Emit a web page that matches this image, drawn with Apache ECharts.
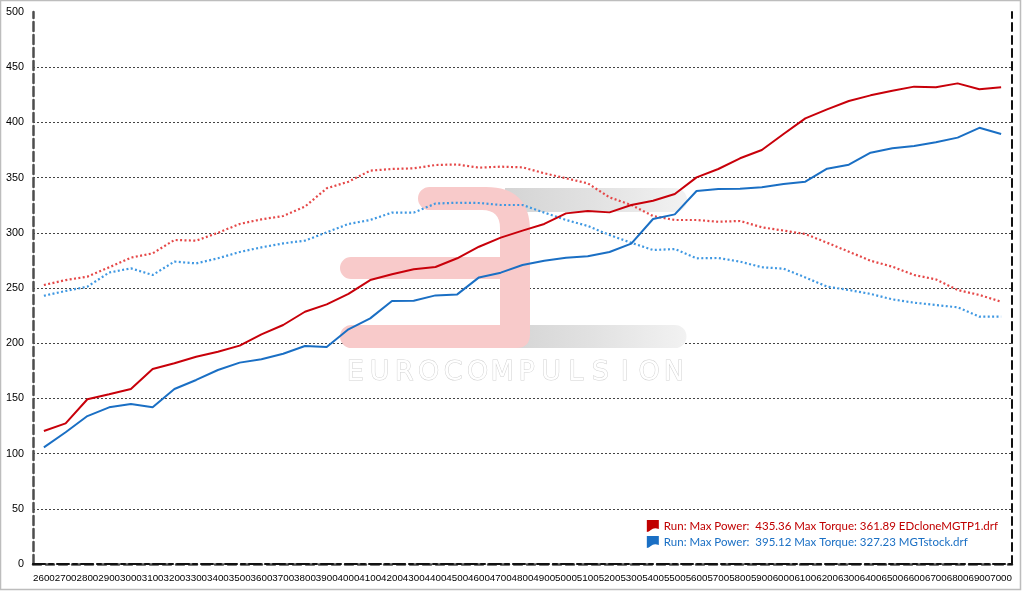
<!DOCTYPE html>
<html>
<head>
<meta charset="utf-8">
<script src="https://cdn.jsdelivr.net/npm/echarts@6/dist/echarts.min.js"></script>
<style>
html,body{margin:0;padding:0;background:#fff;}
#chart{width:1024px;height:591px;}
</style>
</head>
<body>
<div id="chart"></div>
<script>
const rpm = ['2600','2700','2800','2900','3000','3100','3200','3300','3400','3500','3600','3700','3800','3900','4000','4100','4200','4300','4400','4500','4600','4700','4800','4900','5000','5100','5200','5300','5400','5500','5600','5700','5800','5900','6000','6100','6200','6300','6400','6500','6600','6700','6800','6900','7000'];

const edPower = [120.5,127.4,149.2,153.7,158.5,176.6,181.8,187.8,192.3,197.8,208,216.5,228.5,235.2,244.6,257.2,262.4,266.9,269,276.9,287.4,295.6,302,308,317.6,319.7,318.5,325.2,329.1,335.1,350.2,357.8,367.5,375,389.5,403.7,411.8,419.4,424.5,428.7,432.4,431.8,435.36,430,431.8];
const edTorque = [252.7,257.2,260.3,268.7,277.5,281.4,293.5,292.9,300,308,312.2,315.2,323.7,340.3,346.3,356.3,357.8,358.4,361.4,361.89,359,359.9,359.3,353.9,349.4,344.8,332.1,325.2,315.2,311.6,311.6,310,310.7,305,302,298.9,291,282.9,274.7,269.3,261.8,257.8,248.2,243.7,237.6];
const mgPower = [105.7,119.3,134,141.9,144.9,142,158.5,166.7,175.7,182.4,185.4,190.5,197.5,196.6,212.6,222.5,238.2,238.5,243.3,244.2,259.6,263.9,270.8,274.7,277.5,278.7,282.6,290.2,312.5,316.7,337.9,339.7,340,341.2,344.2,346.3,358.1,361.7,372.6,376.5,378.6,382,386.2,395.12,389.5];
const mgTorque = [243,247.3,251.2,264,267.8,261.8,273.9,272.3,276.9,282.6,286.8,290.4,292.9,300.4,308,311.6,318.3,318.3,326.5,327.23,327,325.2,325.2,318.3,311.6,306.2,298,291,284.4,285.3,276.9,277.2,273.9,268.8,267.5,259.6,251.2,248.2,244.6,239.7,236.7,234.6,232.5,224,224];

const nameED = 'Run: Max Power:  435.36 Max Torque: 361.89 EDcloneMGTP1.drf';
const nameMG = 'Run: Max Power:  395.12 Max Torque: 327.23 MGTstock.drf';
const watermarkText = 'EUROCOMPULSION';

// watermark shapes (decoration only)
echarts.graphic.registerShape('wmGray', echarts.graphic.extendPath(
  'M505,188 L675,188 A12,12 0 0 1 675,212 L505,212 Z M505,325 L675,325 A11.5,11.5 0 0 1 675,348 L505,348 Z', {}));
echarts.graphic.registerShape('wmPink', echarts.graphic.extendPath(
  'M429.5,187 L486,187 Q530,187 530,231 L530,334 Q530,348 516,348 L351.5,348 A11.5,11.5 0 0 1 351.5,325 L500,325 L500,279 L351,279 A11,11 0 0 1 351,257 L500,257 L500,228 Q500,210 482,210 L429.5,210 A11.5,11.5 0 0 1 429.5,187 Z', {}));

const chart = echarts.init(document.getElementById('chart'), null, {renderer:'canvas'});

const flagIcon = 'path://M0,0 L12,0 L12,9 Q7,7 4,10 Q2,12 0,12 Z';

const letters = watermarkText.split('').map((ch, i) => ({
  type: 'text',
  z: 1,
  silent: true,
  x: 343 + 24.5 * (i + 0.5),
  y: 373,
  style: {
    text: ch,
    align: 'center',
    verticalAlign: 'middle',
    font: '27px "DejaVu Sans"',
    fill: '#ffffff',
    stroke: '#d2d2d2',
    lineWidth: 1
  }
}));

const option = {
  animation: false,
  backgroundColor: '#ffffff',
  grid: {left: 33, right: 12, top: 12, bottom: 27, containLabel: false},
  legend: {
    orient: 'vertical',
    right: 26,
    bottom: 43,
    padding: 0,
    itemWidth: 12,
    itemHeight: 12,
    itemGap: 4,
    selectedMode: false,
    textStyle: {fontFamily: 'Lato', fontSize: 11.5},
    data: [
      {name: nameED, icon: flagIcon, itemStyle: {color: '#c00000'}, textStyle: {color: '#c00000'}},
      {name: nameMG, icon: flagIcon, itemStyle: {color: '#1a6fc4'}, textStyle: {color: '#1a6fc4'}}
    ]
  },
  xAxis: [
    {
      type: 'category',
      data: rpm,
      boundaryGap: true,
      axisLine: {show: true, lineStyle: {color: '#4d4d4d', width: 2.5, type: [8, 5]}},
      axisTick: {show: false},
      axisLabel: {interval: 0, margin: 9, fontFamily: 'Liberation Sans', fontSize: 9.8, color: '#000'},
      splitLine: {show: false}
    },
    {
      type: 'category',
      data: rpm,
      position: 'top',
      boundaryGap: true,
      axisLine: {show: true, lineStyle: {color: '#111', width: 2, type: [12, 4, 4, 4]}},
      axisTick: {show: false},
      axisLabel: {show: false},
      splitLine: {show: false}
    }
  ],
  yAxis: [
    {
      type: 'value',
      min: 0,
      max: 500,
      interval: 50,
      axisLine: {show: true, lineStyle: {color: '#4d4d4d', width: 2.5, type: [9, 4]}},
      axisTick: {show: false},
      axisLabel: {margin: 9, fontFamily: 'Liberation Sans', fontSize: 10.8, color: '#000'},
      splitLine: {show: true, showMinLine: false, showMaxLine: false, lineStyle: {color: '#444', width: 1, type: [2, 2]}}
    },
    {
      type: 'value',
      min: 0,
      max: 500,
      interval: 50,
      position: 'right',
      axisLine: {show: true, lineStyle: {color: '#111', width: 2, type: [8, 5]}},
      axisTick: {show: false},
      axisLabel: {show: false},
      splitLine: {show: false}
    }
  ],
  series: [
    {
      name: nameED, type: 'line', data: edPower, xAxisIndex: 0, yAxisIndex: 0,
      symbol: 'none', z: 5, itemStyle: {color: '#c00000'},
      lineStyle: {color: '#c8000a', width: 2}
    },
    {
      name: 'EDclone torque', type: 'line', data: edTorque, xAxisIndex: 0, yAxisIndex: 0,
      symbol: 'none', z: 4, itemStyle: {color: '#e84a4a'},
      lineStyle: {color: '#e54848', width: 2.2, type: [2, 2.4]}
    },
    {
      name: nameMG, type: 'line', data: mgPower, xAxisIndex: 0, yAxisIndex: 0,
      symbol: 'none', z: 5, itemStyle: {color: '#1a6fc4'},
      lineStyle: {color: '#1a6fc4', width: 2}
    },
    {
      name: 'MGTstock torque', type: 'line', data: mgTorque, xAxisIndex: 0, yAxisIndex: 0,
      symbol: 'none', z: 4, itemStyle: {color: '#3f98e2'},
      lineStyle: {color: '#3f98e2', width: 2.2, type: [2, 2.4]}
    }
  ],
  graphic: [
    {
      type: 'rect', z: 0, silent: true,
      shape: {x: 0.5, y: 0.5, width: 1020, height: 589},
      style: {fill: 'none', stroke: '#bdbdbd', lineWidth: 1.5}
    },
    {
      type: 'wmGray', z: 1, silent: true,
      style: {fill: new echarts.graphic.LinearGradient(0, 0, 1, 0, [
        {offset: 0, color: '#d4d4d4'}, {offset: 0.5, color: '#e2e2e2'}, {offset: 1, color: '#f2f2f2'}
      ])}
    },
    {
      type: 'wmPink', z: 1, silent: true,
      style: {fill: '#f8caca'}
    }
  ].concat(letters)
};

chart.setOption(option);
</script>
</body>
</html>
